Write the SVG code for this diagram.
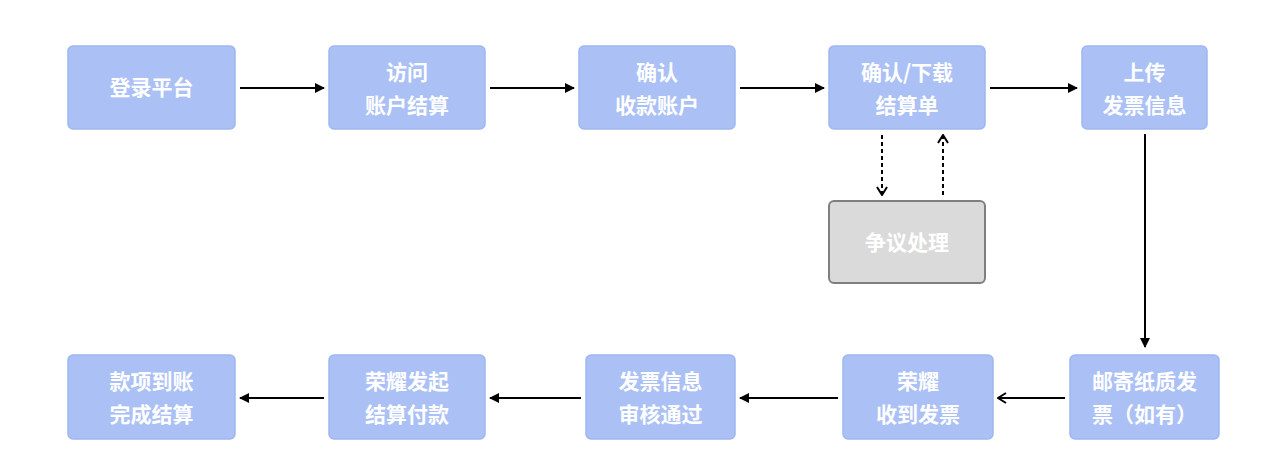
<svg xmlns="http://www.w3.org/2000/svg" width="1280" height="466" viewBox="0 0 1280 466">
<style>
.n{fill:#abc1f6;stroke:#9fb6ef;stroke-width:1.5}
.g{fill:#dadada;stroke:#7f7f7f;stroke-width:2}
.t{font-family:"Noto Sans CJK SC",sans-serif;font-size:21px;font-weight:bold;fill:#fff;text-anchor:middle}
.c{stroke:#000;stroke-width:2;fill:none}
.d{stroke:#000;stroke-width:2;fill:none;stroke-dasharray:4 3}
</style>
<defs>
<marker id="a" markerWidth="10" markerHeight="10" refX="9" refY="5" orient="auto" markerUnits="userSpaceOnUse"><path d="M0,0 L10,5 L0,10 z" fill="#000"/></marker>
<marker id="o" markerWidth="10" markerHeight="12" refX="9" refY="6" orient="auto" markerUnits="userSpaceOnUse"><path d="M1,1 L9,6 L1,11" fill="none" stroke="#000" stroke-width="2"/></marker>
</defs>
<rect width="1280" height="466" fill="#fff"/>
<g id="n1"><rect class="n" x="68" y="46" width="167" height="83" rx="5"/><text class="t" x="151.5" y="95">登录平台</text></g>
<g id="n2"><rect class="n" x="329" y="46" width="156" height="83" rx="5"/><text class="t" x="407" y="80">访问</text><text class="t" x="407" y="113">账户结算</text></g>
<g id="n3"><rect class="n" x="579" y="46" width="156" height="83" rx="5"/><text class="t" x="657" y="80">确认</text><text class="t" x="657" y="113">收款账户</text></g>
<g id="n4"><rect class="n" x="829" y="46" width="156" height="83" rx="5"/><text class="t" x="907" y="80">确认/下载</text><text class="t" x="907" y="113">结算单</text></g>
<g id="n5"><rect class="n" x="1082" y="46" width="125" height="83" rx="5"/><text class="t" x="1144.5" y="80">上传</text><text class="t" x="1144.5" y="113">发票信息</text></g>
<g id="n6"><rect class="g" x="829" y="201" width="156" height="82" rx="5"/><text class="t" x="907" y="250">争议处理</text></g>
<g id="n7"><rect class="n" x="1070" y="355" width="149" height="84" rx="5"/><text class="t" x="1144.5" y="389">邮寄纸质发</text><text class="t" x="1144.5" y="422">票（如有）</text></g>
<g id="n8"><rect class="n" x="843" y="355" width="150" height="84" rx="5"/><text class="t" x="918" y="389">荣耀</text><text class="t" x="918" y="422">收到发票</text></g>
<g id="n9"><rect class="n" x="586" y="355" width="149" height="84" rx="5"/><text class="t" x="660.5" y="389">发票信息</text><text class="t" x="660.5" y="422">审核通过</text></g>
<g id="n10"><rect class="n" x="329" y="355" width="156" height="84" rx="5"/><text class="t" x="407" y="389">荣耀发起</text><text class="t" x="407" y="422">结算付款</text></g>
<g id="n11"><rect class="n" x="68" y="355" width="167" height="84" rx="5"/><text class="t" x="151.5" y="389">款项到账</text><text class="t" x="151.5" y="422">完成结算</text></g>
<g id="connectors">
<line class="c" x1="240" y1="88" x2="324" y2="88" marker-end="url(#a)"/>
<line class="c" x1="490" y1="88" x2="574" y2="88" marker-end="url(#a)"/>
<line class="c" x1="740" y1="88" x2="824" y2="88" marker-end="url(#a)"/>
<line class="c" x1="990" y1="88" x2="1077" y2="88" marker-end="url(#a)"/>
<line class="c" x1="1145" y1="134" x2="1145" y2="347" marker-end="url(#a)"/>
<line class="c" x1="1065" y1="398" x2="998" y2="398" marker-end="url(#o)"/>
<line class="c" x1="838" y1="398" x2="740" y2="398" marker-end="url(#a)"/>
<line class="c" x1="581" y1="398" x2="490" y2="398" marker-end="url(#a)"/>
<line class="c" x1="324" y1="398" x2="240" y2="398" marker-end="url(#a)"/>
<line class="d" x1="882" y1="135" x2="882" y2="195" marker-end="url(#o)"/>
<line class="d" x1="943" y1="195" x2="943" y2="135" marker-end="url(#o)"/>
</g>
</svg>
